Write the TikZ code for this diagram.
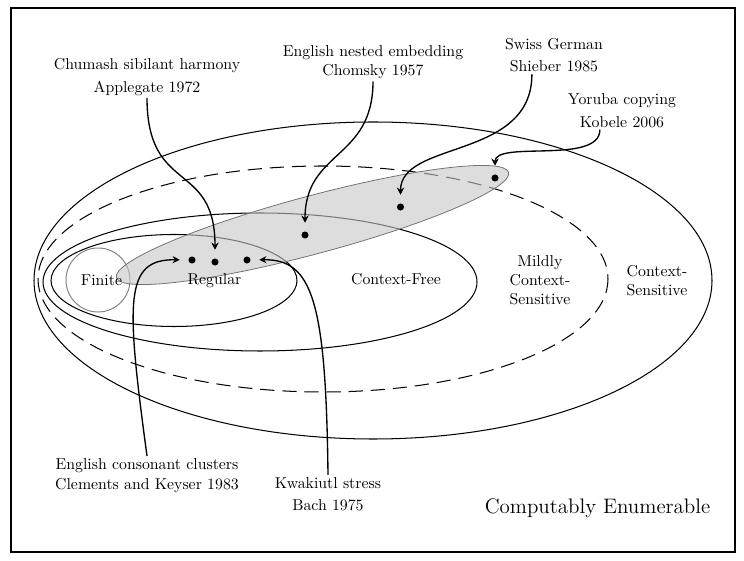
\documentclass[tikz,border=0pt]{standalone}
\usetikzlibrary{arrows.meta}
\begin{document}
\begin{tikzpicture}[x=0.633pt,y=-0.633pt,
  lbl/.style={align=center,inner sep=1pt},
  ann/.style={align=center,inner sep=1.2pt},
  dotn/.style={circle,fill=black,inner sep=0pt,minimum size=4.5pt},
  arr/.style={line width=0.85pt,-{Stealth[length=4.6pt,width=4.6pt,inset=1.6pt]},shorten >=5.3pt},
  cls/.style={line width=0.65pt},
  lang/.style={draw=black!55,line width=0.5pt,fill=black!22,fill opacity=0.6}
]
\useasboundingbox (0,0) rectangle (744,561);
\draw[line width=0.65pt] (11,8) rectangle (735,552);
% language classes
\draw[cls] (373,280.5) ellipse [x radius=339, y radius=158.5];
\draw[cls,dash pattern=on 9pt off 5pt] (323,279) ellipse [x radius=285, y radius=113];
\draw[cls] (260,282) ellipse [x radius=217, y radius=69];
\draw[cls] (174,280.5) ellipse [x radius=123, y radius=46];
\draw[line width=0.6pt,black!50] (98,280) circle [radius=32];
% natural languages
\draw[lang,rotate around={15:(312.5,225)}] (312.5,225) ellipse [x radius=203, y radius=29];
% labels
\node[lbl,anchor=base] (fin) at (101.5,286) {Finite};
\node[lbl,anchor=base] (reg) at (214.5,285) {Regular};
\node[lbl,anchor=base] (cf) at (396,285) {Context-Free};
\node[lbl] (mcs) at (540,280.2) {Mildly\\Context-\\Sensitive};
\node[lbl] (cs) at (657,280.8) {Context-\\Sensitive};
\node[anchor=base,font=\fontsize{13.3}{16}\selectfont] (ce) at (597.5,513.3) {Computably Enumerable};
% dots
\node[dotn] (d1) at (192,260) {};
\node[dotn] (d2) at (215,262) {};
\node[dotn] (d3) at (247,260) {};
\node[dotn] (d4) at (305,235) {};
\node[dotn] (d5) at (400.5,207) {};
\node[dotn] (d6) at (495,178) {};
% annotations
\node[ann,font=\fontsize{10}{14.6}\selectfont] (chum) at (147,76.85) {Chumash sibilant harmony\\Applegate 1972};
\node[ann,font=\fontsize{10}{12.5}\selectfont] (nest) at (373,62.2) {English nested embedding\\Chomsky 1957};
\node[ann,font=\fontsize{10}{14.2}\selectfont] (swiss) at (554,55.1) {Swiss German\\Shieber 1985};
\node[ann,font=\fontsize{10}{14.6}\selectfont] (yoruba) at (622,110.3) {Yoruba copying\\Kobele 2006};
\node[ann,font=\fontsize{10}{13.1}\selectfont] (eng) at (147,475.7) {English consonant clusters\\Clements and Keyser 1983};
\node[ann,font=\fontsize{10}{14.2}\selectfont] (kwak) at (328,494) {Kwakiutl stress\\Bach 1975};
% arrows
\draw[arr] (chum.south) .. controls (147,195) and (215,160) .. (d2);
\draw[arr] (nest.south) .. controls (373,160) and (305,150) .. (d4);
\draw[arr] ([xshift=-14pt]swiss.south) .. controls (532,160) and (400.5,140) .. (d5);
\draw[arr] ([xshift=-14pt]yoruba.south) .. controls (600,165) and (495,140) .. (d6);
\draw[arr] (eng.north) .. controls (126,300) and (124,259) .. (d1);
\draw[arr] (kwak.north) .. controls (326,300) and (312,259) .. (d3);
\end{tikzpicture}
\end{document}
